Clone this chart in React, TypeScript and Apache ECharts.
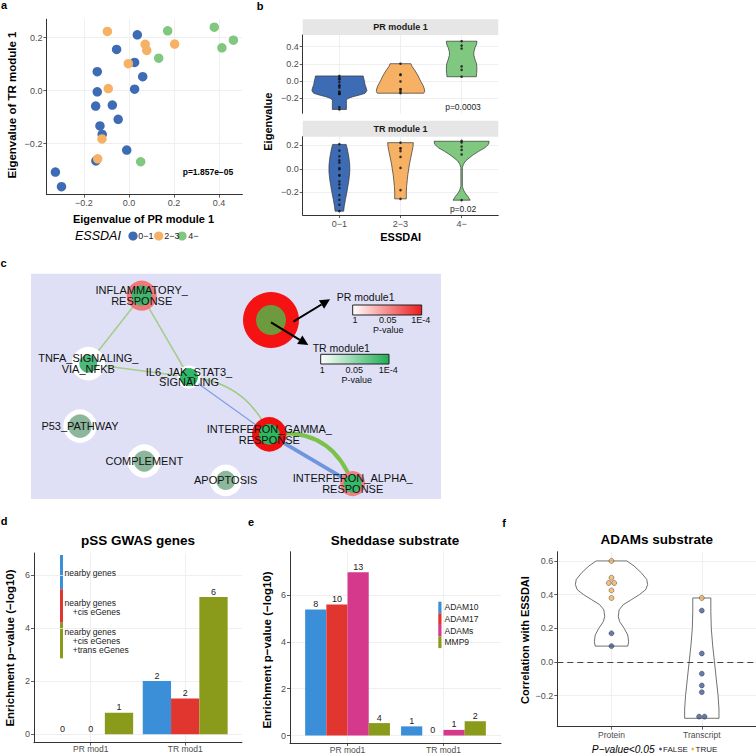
import React, { useEffect, useRef } from "react";
import * as echarts from "echarts";

const FONT = "'Liberation Sans', Arial, Helvetica, sans-serif";
const MINUS = "\u2212";

// ---------- panels a & b : module eigenvalues by ESSDAI group ----------
const essdaiGroups = ["0−1", "2−3", "4−"];
const prLow = [0.037, -0.055, 0.025, -0.141, 0.061, -0.141, 0.025, -0.148, -0.074, -0.048, -0.129, -0.119, -0.01, -0.147, -0.327, -0.3];
const trLow = [0.211, 0.156, 0.107, 0.072, 0.053, -0.004, 0.006, -0.058, -0.054, -0.108, -0.133, -0.165, -0.224, -0.265, -0.307, -0.362];
const prMid = [-0.096, 0.072, 0.079, 0.203, -0.003, -0.092, -0.12, -0.139];
const trMid = [0.224, 0.175, 0.152, 0.176, 0.102, 0.008, -0.182, -0.257];
const prHigh = [0.172, 0.379, 0.464, 0.413, 0.132, 0.052];
const trHigh = [0.226, 0.24, 0.191, 0.162, 0.123, -0.268];
const scatterPValue = "p=1.857e−05";
const prPValue = "p=0.0003";
const trPValue = "p=0.02";
const aXTicks = [-0.2, 0, 0.2, 0.4];
const aYTicks = [-0.2, 0, 0.2];
const bPrTicks = [-0.2, 0, 0.2, 0.4];
const bTrTicks = [-0.4, -0.2, 0, 0.2];
const groupTicks = [0, 1, 2];

// violin outlines: [eigenvalue, half width (fraction of category spacing)]
const prViolinLow = [[0.061, 0.39], [0.03, 0.4], [0.0, 0.41], [-0.04, 0.42], [-0.08, 0.44], [-0.11, 0.45], [-0.14, 0.42], [-0.16, 0.33], [-0.18, 0.22], [-0.2, 0.14], [-0.22, 0.115], [-0.26, 0.115], [-0.327, 0.115]];
const prViolinMid = [[0.203, 0.17], [0.17, 0.19], [0.12, 0.24], [0.06, 0.29], [0.0, 0.33], [-0.05, 0.37], [-0.09, 0.39], [-0.12, 0.395], [-0.139, 0.38]];
const prViolinHigh = [[0.464, 0.25], [0.43, 0.245], [0.39, 0.22], [0.34, 0.2], [0.3, 0.2], [0.25, 0.22], [0.2, 0.245], [0.14, 0.25], [0.09, 0.245], [0.052, 0.24]];
const trViolinLow = [[0.209, 0.11], [0.17, 0.13], [0.1, 0.155], [0.03, 0.17], [-0.03, 0.17], [-0.1, 0.155], [-0.18, 0.13], [-0.26, 0.1], [-0.32, 0.08], [-0.362, 0.07]];
const trViolinMid = [[0.224, 0.21], [0.19, 0.205], [0.15, 0.19], [0.1, 0.17], [0.05, 0.15], [0.0, 0.135], [-0.05, 0.12], [-0.1, 0.11], [-0.15, 0.1], [-0.2, 0.095], [-0.257, 0.095]];
const trViolinHigh = [[0.236, 0.45], [0.21, 0.44], [0.18, 0.38], [0.15, 0.28], [0.12, 0.19], [0.1, 0.14], [0.07, 0.07], [0.04, 0.03], [0.01, 0.012], [-0.15, 0.012], [-0.18, 0.03], [-0.205, 0.055], [-0.235, 0.1], [-0.268, 0.14]];

// ---------- panel c : pathway network ----------
const pathwayNames = ["INFLAMMATORY_RESPONSE", "TNFA_SIGNALING_VIA_NFKB", "IL6_JAK_STAT3_SIGNALING", "P53_PATHWAY", "COMPLEMENT", "APOPTOSIS", "INTERFERON_GAMMA_RESPONSE", "INTERFERON_ALPHA_RESPONSE"];
const pathwayLabels = ["INFLAMMATORY_\nRESPONSE", "TNFA_SIGNALING_\nVIA_NFKB", "IL6_JAK_STAT3_\nSIGNALING", "P53_PATHWAY", "COMPLEMENT", "APOPTOSIS", "INTERFERON_GAMMA_\nRESPONSE", "INTERFERON_ALPHA_\nRESPONSE"];
const layoutX = [110.7, 57.3, 158, 49, 113.3, 194.7, 238.3, 321.7];
const layoutY = [22, 90, 103.3, 152.4, 187.4, 206.7, 160.7, 210];
const pathwayEdges = [[0, 1], [0, 2], [1, 2], [2, 6], [2, 6], [6, 7], [6, 7]];
const pathwayPR = ["#f27878", "#ffffff", "#ffffff", "#ffffff", "#ffffff", "#ffffff", "#f40f0f", "#f28080"];
const pathwayTR = ["#43b26a", "#4cb97b", "#30b868", "#8db79c", "#8db79c", "#8db79c", "#2fb760", "#37b96a"];

// ---------- panel d ----------
const gwasCategories = ["PR mod1", "TR mod1"];
const gwasNearby = [0, 2.0];
const gwasCis = [0, 1.34];
const gwasTrans = [0.81, 5.16];
const gwasNearbyCounts = [0, 2];
const gwasCisCounts = [0, 2];
const gwasTransCounts = [1, 6];
const dYTicks = [0, 2, 4, 6];

// ---------- panel e ----------
const shedCategories = ["PR mod1", "TR mod1"];
const shedNames = ["ADAM10", "ADAM17", "ADAMs", "MMP9"];
const adam10 = [5.38, 0.39];
const adam17 = [5.6, 0];
const adams = [6.97, 0.24];
const mmp9 = [0.53, 0.61];
const adam10Counts = [8, 1];
const adam17Counts = [10, 0];
const adamsCounts = [13, 1];
const mmp9Counts = [4, 2];
const eYTicks = [0, 2, 4, 6];

// ---------- panel f ----------
const adamCategories = ["Protein", "Transcript"];
const proteinTrue = [0.6, 0.5, 0.469, 0.469, 0.425, 0.38];
const proteinFalse = [0.17, 0.094];
const transcriptTrue = [0.38];
const transcriptFalse = [0.305, 0.05, -0.07, -0.14, -0.18, -0.325, -0.325];
const fYTicks = [-0.2, 0, 0.2, 0.4, 0.6];
const proteinViolin = [[0.6, 0.17], [0.57, 0.25], [0.53, 0.33], [0.49, 0.39], [0.46, 0.4], [0.43, 0.38], [0.4, 0.31], [0.37, 0.22], [0.34, 0.13], [0.31, 0.085], [0.27, 0.075], [0.24, 0.09], [0.2, 0.14], [0.16, 0.18], [0.12, 0.19], [0.094, 0.18]];
const transcriptViolin = [[0.38, 0.1], [0.3, 0.1], [0.2, 0.105], [0.1, 0.12], [0.0, 0.14], [-0.1, 0.16], [-0.2, 0.18], [-0.28, 0.19], [-0.335, 0.19]];

// ---------- styles ----------
const groupColors = ["#3d6cb4", "#f6b165", "#80c880"];
const barBlue = "#3a8fd8";
const barRed = "#e1362f";
const barMagenta = "#d5398b";
const barOlive = "#8a9b1b";
const nodeInnerR = [10, 9, 9, 11.7, 10.5, 9.5, 10.3, 9];
const nodeOuterR = [15, 16.7, 11.5, 16.7, 16.7, 15.8, 17.2, 12.5];
const edgeColors = ["#a6cc87", "#a6cc87", "#a6cc87", "#9dca7c", "#7e9ee3", "#6f95df", "#7cc14c"];
const edgeWidths = [1.5, 1.5, 1.5, 1.5, 1.2, 3.8, 4.2];
const edgeCurves = [0, 0, 0, 0.3, 0, 0, 0.4];

const fmt1 = (v: number) => v.toFixed(1).replace("-", MINUS);
const fmt0 = (v: number) => String(Math.round(v));
const catFmt = (cats: string[]) => (v: number) => cats[Math.round(v)] ?? "";

function valueAxis(gridIndex: number, min: number, max: number, ticks: number[], formatter: any, extra: any = {}) {
  return {
    type: "value",
    gridIndex,
    min,
    max,
    axisLine: { show: true, onZero: false, lineStyle: { color: "#333", width: 1 } },
    axisTick: { show: true, length: 3, customValues: ticks, lineStyle: { color: "#333", width: 0.8 } },
    axisLabel: { show: true, customValues: ticks, formatter, color: "#4d4d4d", fontSize: 9, fontFamily: FONT, margin: 4 },
    splitLine: { show: true, lineStyle: { color: "#ebebeb", width: 0.8 } },
    ...extra,
  };
}

function violinSeries(xi: number, profiles: number[][][], fills: string[], stroke: string) {
  return {
    type: "custom",
    xAxisIndex: xi,
    yAxisIndex: xi,
    silent: true,
    z: 3,
    data: profiles.map((_, i) => [i, 0]),
    encode: { x: 0, y: 1 },
    renderItem: (params: any, api: any) => {
      const i = params.dataIndex;
      const cat = api.value(0);
      const band = api.size([1, 0])[0];
      const left: number[][] = [];
      const right: number[][] = [];
      for (const [v, w] of profiles[i]) {
        const p = api.coord([cat, v]);
        left.push([p[0] - w * band, p[1]]);
        right.push([p[0] + w * band, p[1]]);
      }
      return {
        type: "polygon",
        shape: { points: left.concat(right.reverse()) },
        style: { fill: fills[i], stroke, lineWidth: 0.7 },
      };
    },
  };
}

function dodge(cat: number, vals: number[]) {
  return vals.map((v, i) => {
    const before = vals.slice(0, i).filter((u) => u === v).length;
    const total = vals.filter((u) => u === v).length;
    const off = total > 1 ? (before - (total - 1) / 2) * 5.4 : 0;
    return { value: [cat, v], symbolOffset: [off, 0] };
  });
}

const txt = (text: string, x: number, y: number, o: any = {}) => ({
  type: "text",
  x,
  y,
  rotation: o.rot || 0,
  silent: true,
  z: 10,
  style: {
    text,
    fill: o.fill || "#000",
    fontSize: o.size || 9,
    fontWeight: o.weight || "normal",
    fontStyle: o.italic ? "italic" : "normal",
    fontFamily: FONT,
    align: o.align || "center",
    verticalAlign: "middle",
  },
});
const rect = (x: number, y: number, w: number, h: number, fill: any, extra: any = {}) => ({
  type: "rect",
  silent: true,
  shape: { x, y, width: w, height: h },
  style: { fill, ...extra },
});
const circ = (cx: number, cy: number, r: number, fill: string, extra: any = {}) => ({
  type: "circle",
  silent: true,
  shape: { cx, cy, r },
  style: { fill, ...extra },
});

function arrow(x1: number, y1: number, x2: number, y2: number) {
  const dx = x2 - x1, dy = y2 - y1;
  const L = Math.hypot(dx, dy);
  const ux = dx / L, uy = dy / L;
  const bx = x2 - ux * 10, by = y2 - uy * 10;
  const px = -uy, py = ux;
  return [
    { type: "line", silent: true, shape: { x1, y1, x2: bx, y2: by }, style: { stroke: "#000", lineWidth: 2 } },
    { type: "polygon", silent: true, shape: { points: [[x2, y2], [bx + px * 5, by + py * 5], [bx - px * 5, by - py * 5]] }, style: { fill: "#000" } },
  ];
}

function buildOption() {
  const grids = [
    { left: 46.4, top: 19.2, width: 196, height: 175.4 },
    { left: 302.7, top: 35, width: 195.6, height: 78.3 },
    { left: 302.7, top: 136.7, width: 195.6, height: 78.3 },
    { left: 31, top: 273.7, width: 410, height: 225.3 },
    { left: 34, top: 553, width: 207.9, height: 189.7 },
    { left: 290, top: 551.7, width: 211, height: 191.3 },
    { left: 557.3, top: 551.7, width: 198.7, height: 175 },
  ].map((g) => ({ ...g, containLabel: false, outerBoundsMode: "none" }));

  const hiddenX = { axisLine: { show: false }, axisTick: { show: false, customValues: groupTicks }, axisLabel: { show: false, customValues: groupTicks } };

  const xAxis = [
    valueAxis(0, -0.367, 0.504, aXTicks, fmt1),
    valueAxis(1, -0.6, 2.6, groupTicks, catFmt(essdaiGroups), hiddenX),
    valueAxis(2, -0.6, 2.6, groupTicks, catFmt(essdaiGroups)),
    { type: "value", gridIndex: 3, min: 0, max: 410, show: false },
    valueAxis(4, -0.6, 1.6, [0, 1], catFmt(gwasCategories)),
    valueAxis(5, -0.6, 1.6, [0, 1], catFmt(shedCategories)),
    valueAxis(6, -0.6, 1.6, [0, 1], catFmt(adamCategories)),
  ];
  [4, 5, 6].forEach((i) => ((xAxis[i] as any).axisLabel.fontSize = 8.5));
  [4, 5].forEach((i) => ((xAxis[i] as any).axisLabel.margin = 2));

  const yAxis = [
    valueAxis(0, -0.392, 0.27, aYTicks, fmt1),
    valueAxis(1, -0.372, 0.536, bPrTicks, fmt1),
    valueAxis(2, -0.395, 0.275, bTrTicks, fmt1),
    { type: "value", gridIndex: 3, min: 0, max: 225.3, inverse: true, show: false },
    valueAxis(4, -0.32, 6.82, dYTicks, fmt0),
    valueAxis(5, -0.32, 7.85, eYTicks, fmt0),
    valueAxis(6, -0.385, 0.655, fYTicks, fmt1),
  ];

  const prGroups = [prLow, prMid, prHigh];
  const trGroups = [trLow, trMid, trHigh];

  const series: any[] = [];
  // a
  prGroups.forEach((pr, g) => {
    series.push({
      type: "scatter",
      name: essdaiGroups[g],
      xAxisIndex: 0,
      yAxisIndex: 0,
      symbolSize: 9.5,
      itemStyle: { color: groupColors[g], opacity: 1 },
      data: pr.map((x, i) => [x, trGroups[g][i]]),
      silent: true,
    });
  });
  // b
  series.push(violinSeries(1, [prViolinLow, prViolinMid, prViolinHigh], groupColors, "#333"));
  series.push(violinSeries(2, [trViolinLow, trViolinMid, trViolinHigh], groupColors, "#333"));
  [1, 2].forEach((ax) => {
    const groups = ax === 1 ? prGroups : trGroups;
    series.push({
      type: "scatter",
      xAxisIndex: ax,
      yAxisIndex: ax,
      symbolSize: 2.6,
      z: 4,
      silent: true,
      itemStyle: { color: "#111" },
      data: groups.flatMap((vals, g) => vals.map((v) => [g, v])),
    });
  });
  // c network
  series.push({
    type: "graph",
    layout: "none",
    coordinateSystem: "cartesian2d",
    xAxisIndex: 3,
    yAxisIndex: 3,
    silent: true,
    roam: false,
    emphasis: { disabled: true },
    label: { show: true, position: "inside", color: "#111", fontSize: 11, fontFamily: FONT, lineHeight: 10.7 },
    data: pathwayNames.map((n, i) => ({
      name: n,
      value: [layoutX[i], layoutY[i]],
      symbolSize: nodeInnerR[i] + nodeOuterR[i],
      itemStyle: { color: pathwayTR[i], borderColor: pathwayPR[i], borderWidth: nodeOuterR[i] - nodeInnerR[i] },
      label: { formatter: pathwayLabels[i] },
    })),
    links: pathwayEdges.map(([s, t], i) => ({
      source: pathwayNames[s],
      target: pathwayNames[t],
      lineStyle: { color: edgeColors[i], width: edgeWidths[i], curveness: edgeCurves[i], opacity: 1 },
    })),
  });
  // d
  const barLabel = (counts: number[]) => ({
    show: true,
    position: "top",
    distance: 1,
    fontSize: 9,
    fontFamily: FONT,
    color: "#222",
    formatter: (p: any) => String(counts[p.dataIndex]),
  });
  const gwasSets = [
    ["nearby genes", gwasNearby, gwasNearbyCounts, barBlue],
    ["nearby genes +cis eGenes", gwasCis, gwasCisCounts, barRed],
    ["nearby genes +cis eGenes +trans eGenes", gwasTrans, gwasTransCounts, barOlive],
  ] as any[];
  gwasSets.forEach(([name, vals, counts, color]) => {
    series.push({
      type: "bar",
      name,
      xAxisIndex: 4,
      yAxisIndex: 4,
      barWidth: 28.3,
      barGap: "0%",
      silent: true,
      itemStyle: { color },
      label: barLabel(counts),
      data: vals.map((v: number, i: number) => [i, v]),
    });
  });
  // e
  const shedSets = [
    [adam10, adam10Counts, barBlue],
    [adam17, adam17Counts, barRed],
    [adams, adamsCounts, barMagenta],
    [mmp9, mmp9Counts, barOlive],
  ] as any[];
  shedSets.forEach(([vals, counts, color], k) => {
    series.push({
      type: "bar",
      name: shedNames[k],
      xAxisIndex: 5,
      yAxisIndex: 5,
      barWidth: 21.2,
      barGap: "0%",
      silent: true,
      itemStyle: { color },
      label: barLabel(counts),
      data: vals.map((v: number, i: number) => [i, v]),
    });
  });
  // f
  series.push(violinSeries(6, [proteinViolin, transcriptViolin], ["#ffffff", "#ffffff"], "#333"));
  series.push({
    type: "scatter",
    name: "FALSE",
    xAxisIndex: 6,
    yAxisIndex: 6,
    symbolSize: 5,
    z: 5,
    silent: true,
    itemStyle: { color: "#3e5b97", borderColor: "#222", borderWidth: 0.5 },
    data: [...dodge(0, proteinFalse), ...dodge(1, transcriptFalse)],
    markLine: {
      silent: true,
      symbol: "none",
      label: { show: false },
      lineStyle: { type: [6, 4], color: "#444", width: 1 },
      data: [{ yAxis: 0 }],
    },
  });
  series.push({
    type: "scatter",
    name: "TRUE",
    xAxisIndex: 6,
    yAxisIndex: 6,
    symbolSize: 5,
    z: 5,
    silent: true,
    itemStyle: { color: "#f2b35e", borderColor: "#222", borderWidth: 0.5 },
    data: [...dodge(0, proteinTrue), ...dodge(1, transcriptTrue)],
  });

  const graphic: any[] = [
    // panel letters
    txt("a", 4, 4.5, { size: 11, weight: "bold" }),
    txt("b", 260, 5.5, { size: 11, weight: "bold" }),
    txt("c", 3.5, 263, { size: 11, weight: "bold" }),
    txt("d", 4, 521, { size: 11, weight: "bold" }),
    txt("e", 251, 521.5, { size: 11, weight: "bold" }),
    txt("f", 504, 523, { size: 11, weight: "bold" }),
    // panel a
    txt("Eigenvalue of PR module 1", 143.5, 218.5, { size: 11, weight: "bold" }),
    txt("Eigenvalue of TR module 1", 12, 105, { size: 11.5, weight: "bold", rot: Math.PI / 2 }),
    txt(scatterPValue, 208, 172, { size: 8.5, weight: "bold" }),
    txt("ESSDAI", 75, 236, { size: 12.5, italic: true, align: "left" }),
    circ(133, 236, 4.6, groupColors[0]),
    txt(essdaiGroups[0], 138.3, 236, { size: 9, align: "left", fill: "#222" }),
    circ(158.7, 236, 4.6, groupColors[1]),
    txt(essdaiGroups[1], 164.3, 236, { size: 9, align: "left", fill: "#222" }),
    circ(182, 236, 4.6, groupColors[2]),
    txt(essdaiGroups[2], 188.3, 236, { size: 9, align: "left", fill: "#222" }),
    // panel b
    rect(302.7, 19.3, 195.6, 15.7, "#e6e6e6"),
    txt("PR module 1", 400.5, 27.2, { size: 9, weight: "bold", fill: "#1a1a1a" }),
    rect(302.7, 120.7, 195.6, 16, "#e6e6e6"),
    txt("TR module 1", 400.5, 128.7, { size: 9, weight: "bold", fill: "#1a1a1a" }),
    txt(prPValue, 463, 107, { size: 8.5, fill: "#222" }),
    txt(trPValue, 463, 208.5, { size: 8.5, fill: "#222" }),
    txt("Eigenvalue", 268.3, 121.7, { size: 11, weight: "bold", rot: Math.PI / 2 }),
    txt("ESSDAI", 400.7, 237, { size: 11, weight: "bold" }),
    // panel c background + legend
    { ...rect(31, 273.7, 410, 225.3, "#dfe0f6"), z: -10 },
    circ(271, 320, 28, "#f41212"),
    circ(271, 320, 15, "#6e9a3e"),
    ...arrow(293.3, 321.7, 330, 299.3),
    ...arrow(271, 322.3, 308.3, 345),
    txt("PR module1", 336.7, 297.3, { size: 10.5, align: "left", fill: "#111" }),
    rect(352.7, 305, 69, 10, new echarts.graphic.LinearGradient(0, 0, 1, 0, [{ offset: 0, color: "#ffffff" }, { offset: 1, color: "#ec1c1c" }]), { stroke: "#222", lineWidth: 1 }),
    txt("1", 355, 320.2, { size: 9, fill: "#111" }),
    txt("0.05", 387.7, 320.2, { size: 9, fill: "#111" }),
    txt("1E-4", 420.7, 320.2, { size: 9, fill: "#111" }),
    txt("P-value", 388.3, 330.2, { size: 9, fill: "#111" }),
    txt("TR module1", 312.7, 348.3, { size: 10.5, align: "left", fill: "#111" }),
    rect(320.7, 354.3, 68.3, 9.7, new echarts.graphic.LinearGradient(0, 0, 1, 0, [{ offset: 0, color: "#ffffff" }, { offset: 1, color: "#1fae55" }]), { stroke: "#222", lineWidth: 1 }),
    txt("1", 322.3, 369.5, { size: 9, fill: "#111" }),
    txt("0.05", 354.3, 369.5, { size: 9, fill: "#111" }),
    txt("1E-4", 388.3, 369.5, { size: 9, fill: "#111" }),
    txt("P-value", 356.7, 379.5, { size: 9, fill: "#111" }),
    // panel d
    txt("pSS GWAS genes", 138, 540.7, { size: 13.5, weight: "bold" }),
    txt("Enrichment p" + MINUS + "value (" + MINUS + "log10)", 10, 648, { size: 11.5, weight: "bold", rot: Math.PI / 2 }),
    rect(60, 555, 3, 34.3, barBlue),
    rect(60, 589.3, 3, 33.4, barRed),
    rect(60, 622.7, 3, 35.6, barOlive),
    txt("nearby genes", 64.5, 573.3, { size: 8.5, align: "left", fill: "#222" }),
    txt("nearby genes", 64.5, 602.7, { size: 8.5, align: "left", fill: "#222" }),
    txt("+cis eGenes", 72.7, 611.7, { size: 8.5, align: "left", fill: "#222" }),
    txt("nearby genes", 64.5, 631.7, { size: 8.5, align: "left", fill: "#222" }),
    txt("+cis eGenes", 72.7, 640.7, { size: 8.5, align: "left", fill: "#222" }),
    txt("+trans eGenes", 72.7, 650, { size: 8.5, align: "left", fill: "#222" }),
    // panel e
    txt("Sheddase substrate", 395, 540, { size: 13.5, weight: "bold" }),
    txt("Enrichment p" + MINUS + "value (" + MINUS + "log10)", 266.7, 650, { size: 11.5, weight: "bold", rot: Math.PI / 2 }),
    // panel f
    txt("ADAMs substrate", 656.7, 539.3, { size: 13.5, weight: "bold" }),
    txt("Correlation with ESSDAI", 525, 640, { size: 11, weight: "bold", rot: Math.PI / 2 }),
    txt("P" + MINUS + "value<0.05", 591.7, 749, { size: 10.2, italic: true, align: "left" }),
    circ(660.5, 749, 1.4, "#3e5b97"),
    txt("FALSE", 663, 749, { size: 8, align: "left", fill: "#222" }),
    circ(692.7, 749, 1.4, "#f2b35e"),
    txt("TRUE", 695.5, 749, { size: 8, align: "left", fill: "#222" }),
  ];

  return {
    animation: false,
    backgroundColor: "#ffffff",
    textStyle: { fontFamily: FONT },
    grid: grids,
    xAxis,
    yAxis,
    series,
    graphic,
    legend: [
      {
        data: shedNames,
        orient: "vertical",
        left: 438.3,
        top: 601.7,
        itemWidth: 3.2,
        itemHeight: 11.6,
        itemGap: 0,
        icon: "rect",
        padding: 0,
        selectedMode: false,
        textStyle: { fontSize: 8.5, fontFamily: FONT, color: "#222", padding: [0, 0, 0, -2] },
      },
    ],
  };
}

export default function App() {
  const ref = useRef<HTMLDivElement>(null);
  useEffect(() => {
    if (!ref.current) return;
    const chart = echarts.init(ref.current, null, { renderer: "svg", width: 756, height: 756 });
    chart.setOption(buildOption() as any);
    return () => chart.dispose();
  }, []);
  return (
    <div
      ref={ref}
      style={{ position: "fixed", left: 0, top: 0, width: 756, height: 756, background: "#fff" }}
    />
  );
}
